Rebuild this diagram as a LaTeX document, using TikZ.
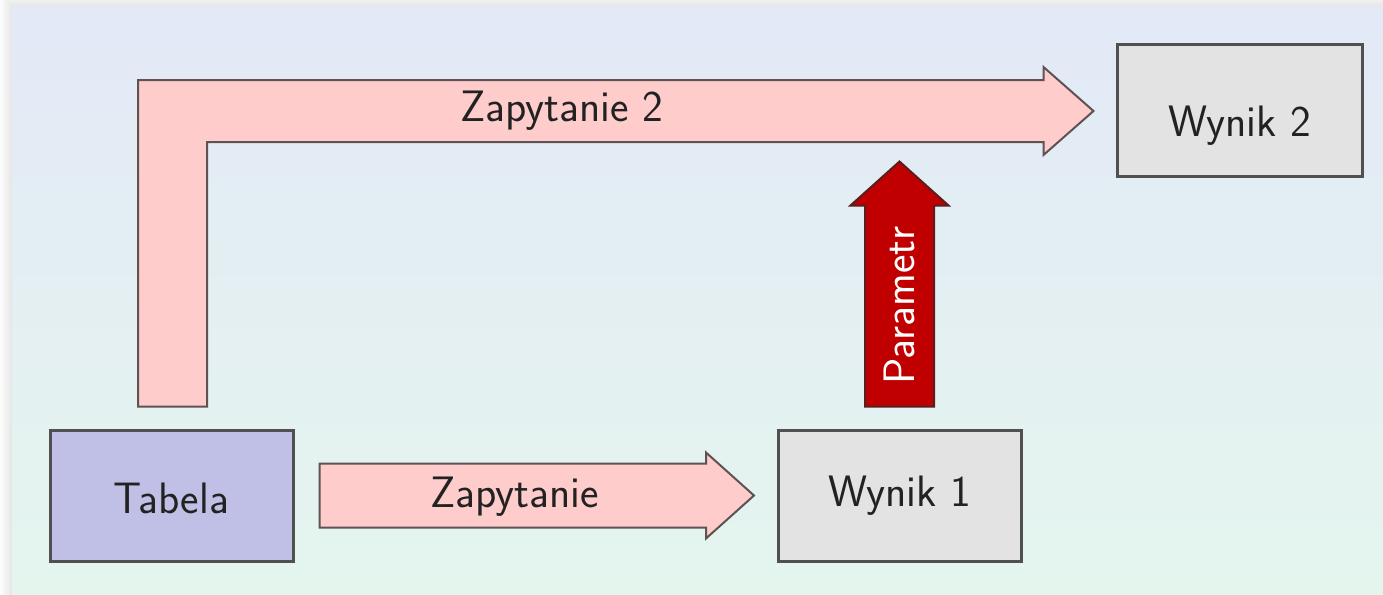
\documentclass[tikz,border=0pt]{standalone}
\usetikzlibrary{calc}
\definecolor{bgtop}{HTML}{E3E9F7}
\definecolor{bgbot}{HTML}{E4F5EE}
\definecolor{pinkfill}{HTML}{FFCCCC}
\definecolor{arrline}{HTML}{5E5252}
\definecolor{boxline}{HTML}{505050}
\definecolor{tabfill}{HTML}{C0C0E6}
\definecolor{wynfill}{HTML}{E3E3E3}
\definecolor{redfill}{HTML}{C00000}
\definecolor{redline}{HTML}{5A1E1E}
\definecolor{txt}{HTML}{222222}
\begin{document}
\begin{tikzpicture}[x=0.5pt,y=-0.5pt,
  box/.style={draw=boxline,line width=1.5pt,minimum width=121.5pt,minimum height=65.5pt,inner sep=0pt,font=\sffamily\fontsize{22}{26}\selectfont,text=txt},
  fat/.style={draw=arrline,line width=1pt,fill=pinkfill,line join=miter},
  redarrow/.style={draw=redline,line width=1pt,fill=redfill,line join=miter},
  lbl/.style={font=\sffamily\fontsize{22}{26}\selectfont,text=txt,inner sep=0pt}]
\useasboundingbox (0,0) rectangle (1383,595);
\fill[white] (0,0) rectangle (1383,595);
\foreach \i in {1,...,12} {\fill[black,opacity=0.007] (12-\i,6-\i) rectangle (1383,595);}
\shade[top color=bgtop,bottom color=bgbot] (12,6) rectangle (1383,595);
% boxes
\node[box,fill=tabfill,text height=17.5pt,text depth=0pt] (tab) at (171.5,495.5) {Tabela};
\node[box,fill=wynfill] (w1) at (900,495.5) {Wynik 1};
\node[box,fill=wynfill,minimum width=122.5pt,minimum height=66pt,text height=30pt,text depth=4pt] (w2) at (1239.5,110) {Wynik 2};
% Zapytanie arrow
\coordinate (z1s) at ($(tab.east)+(25,0)$);
\coordinate (z1t) at ($(w1.west)+(-23,0)$);
\draw[fat] ($(z1s)+(0,-32)$) -- ($(z1t)+(-48,-32)$) -- ($(z1t)+(-48,-43)$) -- (z1t)
  -- ($(z1t)+(-48,43)$) -- ($(z1t)+(-48,32)$) -- ($(z1s)+(0,32)$) -- cycle;
\node[lbl] (z1l) at ($(z1s)+(195,1)$) {Zapytanie};
% Parametr arrow
\coordinate (pb) at ($(w1.north)+(-0.5,-22)$);
\coordinate (pt) at ($(pb)+(0,-245)$);
\draw[redarrow] ($(pb)+(-34.5,0)$) -- ($(pt)+(-34.5,44)$) -- ($(pt)+(-49,44)$) -- (pt)
  -- ($(pt)+(49,44)$) -- ($(pt)+(34.5,44)$) -- ($(pb)+(34.5,0)$) -- cycle;
\node[lbl,text=white,rotate=90] (pl) at ($(pb)+(0,-101)$) {Parametr};
% Zapytanie 2 arrow
\coordinate (zb) at ($(tab.north)+(1,-22)$);
\coordinate (zt) at ($(w2.west)+(-22,1)$);
\draw[fat] ($(zb)+(-34.5,0)$) -- ($(zb |- zt)+(-34.5,-31)$) -- ($(zt)+(-50,-31)$) -- ($(zt)+(-50,-44)$) -- (zt)
  -- ($(zt)+(-50,44)$) -- ($(zt)+(-50,31)$) -- ($(zb |- zt)+(34.5,31)$) -- ($(zb)+(34.5,0)$) -- cycle;
\node[lbl] (z2l) at (562,111) {Zapytanie 2};
\end{tikzpicture}
\end{document}
